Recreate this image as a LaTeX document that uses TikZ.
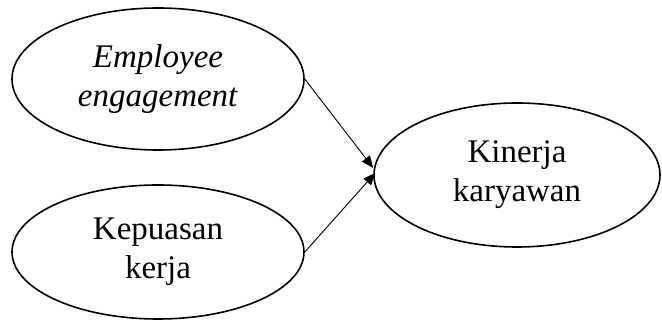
\documentclass[tikz,border=0pt]{standalone}
\usepackage{fontspec}
\setmainfont{Liberation Serif}
\usetikzlibrary{arrows.meta, shapes.geometric}
\tikzset{
  every picture/.style={x=1pt, y=1pt},
  latent/.style={draw, ellipse, line width=1.6pt, align=center, inner sep=0pt, font=\fontsize{33}{39}\selectfont},
  arrow/.style={-{Triangle[length=12pt, width=10pt]}, line width=0.9pt},
}

\begin{document}
\begin{tikzpicture}
  \useasboundingbox (0,0) rectangle (662,329);
  \node[latent, minimum width=292, minimum height=142] (eng) at (158,250) {\textit{Employee}\\\textit{engagement}};
  \node[latent, minimum width=292, minimum height=134] (kep) at (158,77) {Kepuasan\\kerja};
  \node[latent, minimum width=286, minimum height=144] (kin) at (517,154) {Kinerja\\karyawan};
  \draw[arrow] (eng.east) -- ([yshift=7pt]kin.west);
  \draw[arrow] (kep.east) -- ([xshift=2pt, yshift=2pt]kin.west);
\end{tikzpicture}
\end{document}
